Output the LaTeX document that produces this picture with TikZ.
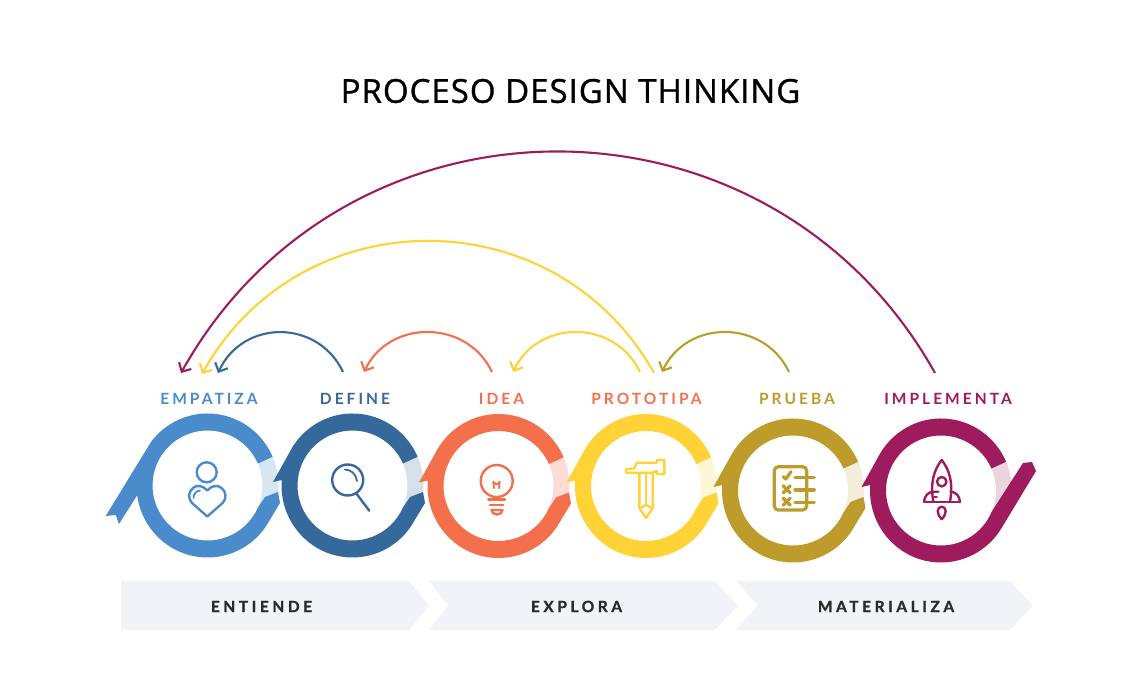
\documentclass[tikz,border=0pt]{standalone}
\usepackage{fontspec}
\setmainfont{Lato}
\newfontfamily\titlefont[LetterSpace=3,FakeBold=1]{Open Sans}
\usetikzlibrary{arrows.meta}
\definecolor{cA}{HTML}{4A8CCB}\definecolor{lA}{HTML}{D6E6F3}
\definecolor{cB}{HTML}{35699C}\definecolor{lB}{HTML}{D5E0EA}
\definecolor{cC}{HTML}{F4704D}\definecolor{lC}{HTML}{FDDDD6}
\definecolor{cD}{HTML}{FFD335}\definecolor{lD}{HTML}{FFF6D6}
\definecolor{cE}{HTML}{BD9C2C}\definecolor{lE}{HTML}{F3EED9}
\definecolor{cF}{HTML}{9E1B5E}\definecolor{lF}{HTML}{EDD3E0}
\definecolor{band}{HTML}{F2F3F9}
\definecolor{ink}{HTML}{2B2B2B}
\tikzset{
  looparc/.style={line width=2.1pt,-{Straight Barb[length=7pt,width=14pt]}},
  steplabel/.style={inner sep=0pt,font=\bfseries\addfontfeatures{LetterSpace=19.5}\fontsize{15.5}{18}\selectfont},
  phaselabel/.style={inner sep=0pt,text=ink,font=\bfseries\addfontfeatures{LetterSpace=23,FakeBold=1.2}\fontsize{15.5}{18}\selectfont},
  bandshape/.style={fill=band,draw=none},
  iconline/.style={line width=2.4pt,line cap=round,line join=round,fill=none},
  iconbold/.style={line width=3.2pt,line cap=round,line join=round,fill=none},
}
% ring with a light gap; #1 x, #2 y, #3 dark, #4 light
\newcommand\ringlight[4]{%
  \begin{scope}[shift={(#1,#2)},y=1pt]
    \fill[#4] (23.5:71 and 72) arc (23.5:-24:71 and 72) -- (-24:55) arc (-24:23.5:55) -- cycle;
  \end{scope}}
\newcommand\ringmid[4]{%
  \ringlight{#1}{#2}{#3}{#4}%
  \begin{scope}[shift={(#1,#2)},y=1pt]
    \fill[#3] (23.5:71 and 72) arc (23.5:152.5:71 and 72) -- (-79.5,3.5) -- (175.6:71 and 72) arc (175.6:325:71 and 72)
      -- (72.5,-17.5) -- (70.5,-6.5) -- (57.5,-11.5) -- (-24:55) arc (-24:-336.5:55) -- cycle;
  \end{scope}}
\newcommand\ringfirst[4]{%
  \ringlight{#1}{#2}{#3}{#4}%
  \begin{scope}[shift={(#1,#2)},y=1pt]
    \fill[#3] (23.5:71 and 72) arc (23.5:142.5:71 and 72) -- (-101.8,-30.5) -- (-91.8,-29.5) -- (-88.5,-38.5)
      -- (187.8:71 and 72) arc (187.8:325:71 and 72)
      -- (72.5,-17.5) -- (70.5,-6.5) -- (57.5,-11.5) -- (-24:55) arc (-24:-336.5:55) -- cycle;
  \end{scope}}
\newcommand\ringlast[4]{%
  \ringlight{#1}{#2}{#3}{#4}%
  \begin{scope}[shift={(#1,#2)},y=1pt]
    \fill[#3] (23.5:71 and 72) arc (23.5:152.5:71 and 72) -- (-79.5,3.5) -- (175.6:71 and 72) arc (175.6:329:71 and 72)
      -- (95,19.5) -- (91,28.5) -- (82,27.5) -- (-22.5:55) arc (-22.5:-336.5:55) -- cycle;
  \end{scope}}
\begin{document}
\begin{tikzpicture}[x=1pt,y=-1pt]
\useasboundingbox (0,0) rectangle (1140,700);
\fill[white] (0,0) rectangle (1140,700);

\node[inner sep=0pt,text=black,font=\titlefont\fontsize{33}{38}\selectfont] (title) at (570.5,91) {PROCESO DESIGN THINKING};

% bottom bands
\fill[bandshape] (121,581) -- (409,581) -- (429,605.5) -- (409,630) -- (121,630) -- cycle;
\fill[bandshape] (429,581) -- (715,581) -- (738,605.5) -- (715,630) -- (429,630) -- (448,605.5) -- cycle;
\fill[bandshape] (736,581) -- (1010,581) -- (1033,605.5) -- (1010,630) -- (736,630) -- (758,605.5) -- cycle;
\node[phaselabel] (entiende) at (261.5,606.5) {ENTIENDE};
\node[phaselabel] (explora) at (576.5,606.5) {EXPLORA};
\node[phaselabel] (materializa) at (886,606.5) {MATERIALIZA};

% rings
\ringfirst{207.5}{485.5}{cA}{lA}
\ringmid{352.5}{485.5}{cB}{lB}
\ringmid{498.5}{486}{cC}{lC}
\ringmid{646}{486}{cD}{lD}
\ringmid{793}{490.5}{cE}{lE}
\ringlast{941}{490.5}{cF}{lF}

% step labels
\node[steplabel,text=cA] (empatiza) at (209,399) {EMPATIZA};
\node[steplabel,text=cB] (define) at (355,399) {DEFINE};
\node[steplabel,text=cC] (idea) at (501.5,399) {IDEA};
\node[steplabel,text=cC] (prototipa) at (646.5,399) {PROTOTIPA};
\node[steplabel,text=cE] (prueba) at (797,399) {PRUEBA};
\node[steplabel,text=cF] (implementa) at (948,399) {IMPLEMENTA};

% connector ends
\coordinate (bS) at (343,372); \coordinate (bE) at (218,373);
\coordinate (oS) at (492,372); \coordinate (oE) at (364,372);
\coordinate (yS) at (640,372); \coordinate (yE) at (513,372);
\coordinate (gS) at (789,372); \coordinate (gE) at (662,372);
\coordinate (YS) at (654,373); \coordinate (YE) at (202,374);
\coordinate (mS) at (935,373); \coordinate (mE) at (181,373);

\draw[looparc,cF] (mS) .. controls (770,78) and (346,78) .. (mE);
\draw[looparc,cD] (YS) .. controls (555.6,197) and (301,197) .. (YE);
\draw[looparc,cB] (bS) .. controls (318,319) and (243,319) .. (bE);
\draw[looparc,cC] (oS) .. controls (467,319) and (389,319) .. (oE);
\draw[looparc,cD] (yS) .. controls (615,319) and (538,319) .. (yE);
\draw[looparc,cE] (gS) .. controls (764,319) and (687,319) .. (gE);

% icon: person with heart
\draw[iconline,cA] (206.7,472.3) circle[radius=10];
\draw[iconline,cA] (207.3,490.5) .. controls (203,485.5) and (197,484.5) .. (193,488)
  .. controls (188,492) and (188,499) .. (192,503) -- (207.3,516.5) -- (222.6,503)
  .. controls (226.6,499) and (226.6,492) .. (221.6,488)
  .. controls (217.6,484.5) and (211.6,485.5) .. (207.3,490.5);
\draw[iconline,cA,line width=1.8pt] (193.5,498) .. controls (193.5,494) and (196,491) .. (200,490.5);

% icon: magnifier
\draw[iconline,cB] (347.7,480) circle[radius=15.5];
\draw[iconline,cB] (356.7,494) -- (369.3,510.7);
\draw[iconline,cB,line width=1.8pt] (345,469.5) .. controls (351,469.5) and (356,474) .. (357,481);

% icon: bulb
\draw[iconline,cC] (496.7,481) circle[radius=16];
\draw[iconline,cC] (488.3,499.3) -- (505,499.3);
\draw[iconline,cC] (490,505) -- (503.3,505);
\draw[iconline,cC] (491.5,510) .. controls (492,516) and (502,516) .. (502.5,510) -- cycle;
\draw[iconline,cC,line width=1.8pt] (494,488.3) -- (493.3,481.7) -- (495.7,484) -- (497.3,484) -- (499.7,481.7) -- (499,488.3);

% icon: hammer / pencil
\draw[iconline,cD] (626,472.7) -- (626,469.3) -- (634.3,468.3) -- (636.7,462.7) -- (656.7,462.7) -- (656.7,460) -- (664.3,460) -- (664.3,474) -- (656.7,474) -- (656.7,471) -- (652,472.7) -- cycle;
\draw[iconline,cD] (639.3,473) -- (639.3,508) -- (646,518) -- (652.7,508) -- (652.7,473);
\draw[iconline,cD] (646,473) -- (646,505);
\draw[iconline,cD] (641,507.5) -- (646,505) -- (651,507.5);

% icon: checklist
\draw[iconbold,cE,rounded corners=4pt] (774.3,466.7) rectangle (806.7,510);
\draw[iconbold,cE] (795,477.7) -- (814.3,477.7);
\draw[iconbold,cE] (795,490) -- (814.3,490);
\draw[iconbold,cE] (795,502.3) -- (814.3,502.3);
\draw[iconbold,cE] (783.3,476.7) -- (785.7,479) -- (791,471.7);
\draw[iconbold,cE] (783.2,485.8) -- (790.2,492.8);
\draw[iconbold,cE] (790.2,485.8) -- (783.2,492.8);
\draw[iconbold,cE] (783.2,498.2) -- (790.2,505.2);
\draw[iconbold,cE] (790.2,498.2) -- (783.2,505.2);

% icon: rocket
\draw[iconline,cF] (933.3,501.7) .. controls (930,482) and (934,470) .. (941.7,460)
  .. controls (949.4,470) and (953.4,482) .. (950,501.7);
\draw[iconline,cF] (924,501.7) -- (960,501.7);
\draw[iconline,cF] (924,501.7) .. controls (924.5,496) and (928,492) .. (933.5,491.7) -- (938.3,491.7);
\draw[iconline,cF] (960,501.7) .. controls (959.5,496) and (956,492) .. (950.5,491.7);
\draw[iconline,cF] (933,496.7) -- (936.7,496.7);
\draw[iconline,cF] (941.7,481.7) circle[radius=4.7];
\draw[iconline,cF] (941.7,519.3) .. controls (939,516) and (937.7,514) .. (937.7,511)
  .. controls (937.7,508.5) and (939.5,506.7) .. (941.7,506.7)
  .. controls (943.9,506.7) and (945.7,508.5) .. (945.7,511)
  .. controls (945.7,514) and (944.4,516) .. (941.7,519.3);
\end{tikzpicture}
\end{document}
